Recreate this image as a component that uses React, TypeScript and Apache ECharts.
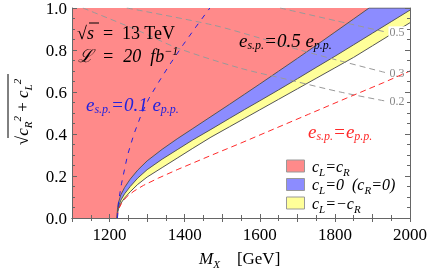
import React, { useEffect, useRef } from 'react';
import * as echarts from 'echarts';

// Boundaries of the excluded regions (M_X [GeV], sqrt(cR^2+cL^2))
const pinkEdge: number[][] = [
  [1220, 0], [1221, 0.04], [1224, 0.075], [1230, 0.11], [1240, 0.145], [1255, 0.185],
  [1275, 0.228], [1300, 0.272], [1340, 0.327], [1380, 0.377], [1420, 0.424], [1470, 0.483],
  [1520, 0.542], [1560, 0.59], [1600, 0.638], [1650, 0.699], [1700, 0.76], [1750, 0.822],
  [1800, 0.885], [1850, 0.948], [1891, 1.0],
];
const blueEdge: number[][] = [
  [1220, 0], [1221, 0.028], [1224, 0.055], [1230, 0.085], [1240, 0.115], [1255, 0.15],
  [1275, 0.19], [1300, 0.23], [1340, 0.28], [1380, 0.325], [1420, 0.37], [1470, 0.422],
  [1520, 0.475], [1560, 0.517], [1600, 0.558], [1650, 0.61], [1700, 0.663], [1750, 0.717],
  [1800, 0.77], [1850, 0.825], [1900, 0.88], [1950, 0.935], [2000, 0.99],
];
const yellowEdge: number[][] = [
  [1220, 0], [1221, 0.022], [1224, 0.045], [1230, 0.07], [1240, 0.095], [1255, 0.125],
  [1275, 0.16], [1300, 0.195], [1340, 0.24], [1380, 0.285], [1420, 0.33], [1470, 0.385],
  [1520, 0.435], [1560, 0.475], [1600, 0.515], [1650, 0.565], [1700, 0.615], [1750, 0.665],
  [1800, 0.715], [1850, 0.765], [1900, 0.82], [1950, 0.875], [2000, 0.93],
];
const topEdge: number[][] = [[1100, 1], [2000, 1]];
// e_sp = e_pp (red dashed)
const redDashed: number[][] = [
  [1221, 0], [1222, 0.025], [1225, 0.045], [1232, 0.07], [1245, 0.1], [1265, 0.128],
  [1290, 0.155], [1330, 0.19], [1380, 0.23], [1470, 0.298], [1550, 0.357], [1630, 0.418],
  [1730, 0.494], [1830, 0.57], [1930, 0.645], [2000, 0.7],
];
// e_sp = 0.1 e_pp (blue dashed)
const blueDashed: number[][] = [
  [1221, 0], [1224, 0.08], [1232, 0.165], [1248, 0.3], [1265, 0.4], [1285, 0.495],
  [1305, 0.57], [1330, 0.645], [1360, 0.73], [1396, 0.825], [1430, 0.91], [1467, 1.0],
];
// gray contours
const gray05: number[][] = [[1654, 1.0], [1806, 0.938], [1940, 0.884]];
const gray03: number[][] = [[1246, 1.0], [1475, 0.919], [1600, 0.857], [1707, 0.8], [1806, 0.752], [1940, 0.69]];
const gray02: number[][] = [[1129, 1.0], [1273, 0.895], [1380, 0.81], [1547, 0.714], [1680, 0.657], [1814, 0.6], [1940, 0.555]];
const grayLabels = ['0.5', '0.3', '0.2'];

const legendTexts = [
  '{i|c}{s|L}{i|=c}{s|R}',
  '{i|c}{s|L}{i|=0  (c}{s|R}{i|=0)}',
  '{i|c}{s|L}{i|=−c}{s|R}',
];

const PINK = '#ff8a8a';
const BLUE = '#8c8cff';
const YELLOW = '#ffff99';
const FONT = 'Liberation Serif';

function richFor(color: string, size = 16, sub = 10) {
  return {
    i: { fontFamily: FONT, fontStyle: 'italic', fontSize: size, lineHeight: 22, fill: color, color },
    n: { fontFamily: FONT, fontSize: size, lineHeight: 22, fill: color, color },
    s: { fontFamily: FONT, fontStyle: 'italic', fontSize: sub, lineHeight: 12, verticalAlign: 'bottom', fill: color, color },
    p: { fontFamily: FONT, fontStyle: 'italic', fontSize: sub, lineHeight: 12, verticalAlign: 'top', fill: color, color },
  };
}

function areaSeries(data: number[][], fill: string, stroke: string, strokeWidth: number) {
  return {
    type: 'line',
    data,
    xAxisIndex: 0,
    yAxisIndex: 0,
    showSymbol: false,
    symbol: 'none',
    silent: true,
    smooth: false,
    z: 1,
    itemStyle: { color: fill },
    lineStyle: { color: stroke, width: strokeWidth },
    areaStyle: { color: fill, opacity: 1 },
  };
}

function lineSeries(data: number[][], color: string, width: number, type: any, z: number, smooth: any, extra: any = {}) {
  return {
    type: 'line',
    data,
    xAxisIndex: 0,
    yAxisIndex: 0,
    showSymbol: false,
    symbol: 'none',
    silent: true,
    smooth,
    z,
    lineStyle: { color, width, type },
    ...extra,
  };
}

const axisCommon = {
  z: 5,
  axisLine: { show: true, lineStyle: { color: '#666', width: 1 } },
  splitLine: { show: false },
};

export default function App() {
  const ref = useRef<HTMLDivElement>(null);
  useEffect(() => {
    const chart = echarts.init(ref.current!, null, { renderer: 'svg' });
    const grayEnd = (txt: string) => ({
      endLabel: {
        show: true,
        formatter: txt,
        color: '#888',
        fontFamily: FONT,
        fontSize: 12,
        backgroundColor: '#fff',
        padding: [0, 1],
        distance: 1,
      },
    });
    const xTicks = {
      ...axisCommon,
      type: 'value',
      min: 1100,
      max: 2000,
      interval: 100,
      axisTick: { show: true, inside: true, length: 4, lineStyle: { color: '#666' } },
      minorTick: { show: true, splitNumber: 2, length: 3, lineStyle: { color: '#666' } },
    };
    const yTicks = {
      ...axisCommon,
      type: 'value',
      min: 0,
      max: 1,
      interval: 0.2,
      axisTick: { show: true, inside: true, length: 5, lineStyle: { color: '#666' } },
      minorTick: { show: true, splitNumber: 4, length: 3, lineStyle: { color: '#666' } },
    };
    const legendColors = [PINK, BLUE, YELLOW];
    const legendGraphics: any[] = [];
    legendColors.forEach((c, k) => {
      const cy = 166 + k * 18.5;
      legendGraphics.push({
        type: 'rect', z: 10,
        shape: { x: 286.5, y: cy - 6, width: 18, height: 12 },
        style: { fill: c, stroke: '#999', lineWidth: 1 },
      });
      legendGraphics.push({
        type: 'text', x: 312, y: cy, z: 10,
        style: { text: legendTexts[k], rich: richFor('#000', 16, 11), verticalAlign: 'middle', align: 'left' },
      });
    });
    chart.setOption({
      animation: false,
      grid: { left: 72, top: 8, right: 17, bottom: 53, containLabel: false, outerBoundsMode: 'none' },
      xAxis: [
        {
          ...xTicks,
          position: 'bottom',
          axisLabel: {
            show: true,
            margin: 8,
            color: '#000',
            fontFamily: FONT,
            fontSize: 17,
            formatter: (v: number) => (v % 200 === 0 ? String(v) : ''),
          },
        },
        { ...xTicks, position: 'top', axisLabel: { show: false } },
      ],
      yAxis: [
        {
          ...yTicks,
          position: 'left',
          axisLabel: {
            show: true,
            margin: 5,
            color: '#000',
            fontFamily: FONT,
            fontSize: 17,
            formatter: (v: number) => v.toFixed(1),
          },
        },
        { ...yTicks, position: 'right', axisLabel: { show: false } },
      ],
      series: [
        areaSeries(topEdge, PINK, 'rgba(0,0,0,0)', 0),
        areaSeries([...pinkEdge, [2000, 1]], BLUE, '#555', 1),
        areaSeries(blueEdge, YELLOW, '#555', 1),
        areaSeries(yellowEdge, '#ffffff', '#555', 1),
        lineSeries(gray05, '#999', 1, [6, 4], 3, 0.3, grayEnd(grayLabels[0])),
        lineSeries(gray03, '#999', 1, [6, 4], 3, 0.3, grayEnd(grayLabels[1])),
        lineSeries(gray02, '#999', 1, [6, 4], 3, 0.3, grayEnd(grayLabels[2])),
        lineSeries(redDashed, '#ff2a2a', 1, [6, 4], 4, false),
        lineSeries(blueDashed, '#2222dd', 1, [5, 6], 4, false),
      ],
      graphic: [
        {
          type: 'text', x: 77, y: 33, z: 10,
          style: { text: '{n|√}{i|s}{n|  =  13 TeV}', rich: richFor('#000', 18, 11), verticalAlign: 'middle', align: 'left' },
        },
        { type: 'line', z: 10, shape: { x1: 89, y1: 23, x2: 99, y2: 23 }, style: { stroke: '#000', lineWidth: 1 } },
        {
          type: 'text', x: 78, y: 56, z: 10,
          style: { text: '{i|ℒ  =  20  fb}{p|−1}', rich: richFor('#000', 18, 12), verticalAlign: 'middle', align: 'left' },
        },
        {
          type: 'text', x: 86, y: 104, z: 10,
          style: { text: '{i|e}{s|s.p.}{i|=0.1 e}{s|p.p.}', rich: richFor('#2222dd', 19, 12), verticalAlign: 'middle', align: 'left' },
        },
        {
          type: 'text', x: 239, y: 40, z: 10,
          style: { text: '{i|e}{s|s.p.}{i|=0.5 e}{s|p.p.}', rich: richFor('#000', 19, 12), verticalAlign: 'middle', align: 'left' },
        },
        {
          type: 'text', x: 308, y: 131, z: 10,
          style: { text: '{i|e}{s|s.p.}{i|=e}{s|p.p.}', rich: richFor('#ff2a2a', 19, 12), verticalAlign: 'middle', align: 'left' },
        },
        {
          type: 'text', x: 199, y: 258, z: 10,
          style: { text: '{i|M}{s|X}{n|    [GeV]}', rich: richFor('#000', 17, 11), verticalAlign: 'middle', align: 'left' },
        },
        {
          type: 'text', x: 22, y: 112, z: 10, rotation: Math.PI / 2,
          style: {
            text: '{n|√}{i|c}{s|R}{p|2}{n| + }{i|c}{s|L}{p|2}',
            rich: richFor('#000', 17, 11), verticalAlign: 'middle', align: 'center',
          },
        },
        { type: 'line', z: 10, shape: { x1: 8, y1: 74, x2: 8, y2: 138 }, style: { stroke: '#000', lineWidth: 1 } },
        ...legendGraphics,
      ],
    });
    return () => chart.dispose();
  }, []);
  return <div ref={ref} style={{ position: 'fixed', left: 0, top: 0, width: 427, height: 271 }} />;
}
